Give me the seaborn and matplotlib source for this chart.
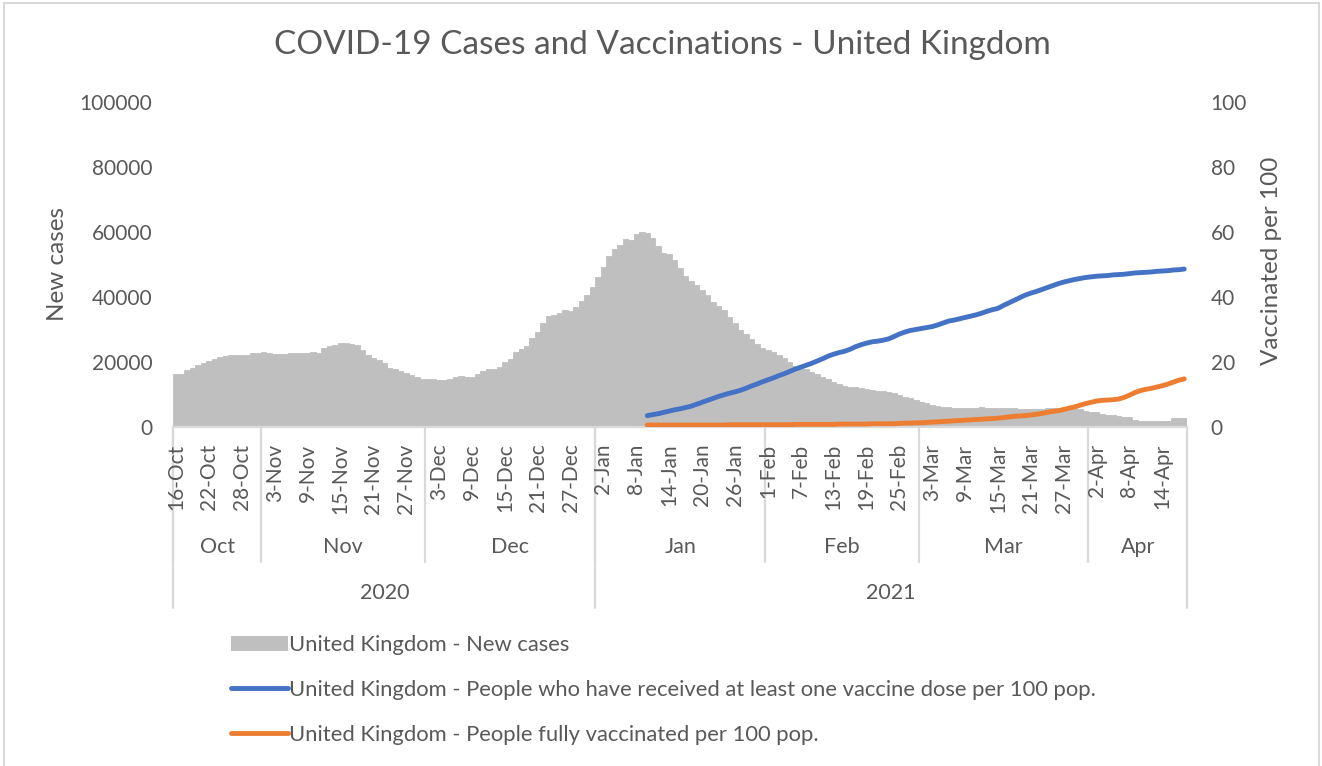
import numpy as np
import pandas as pd
import matplotlib
matplotlib.use("Agg")
import matplotlib.pyplot as plt
import matplotlib.transforms as mtransforms
from matplotlib.lines import Line2D
from matplotlib.patches import Patch
import seaborn as sns

# ---------------- data ----------------
start_date = "2020-10-16"
end_date = "2021-04-18"
new_cases = [
    16200, 16300, 17500, 18300, 19100, 19600, 20300, 20900, 21500, 21800,
    22000, 22000, 22100, 22300, 22800, 22900, 23100, 22800, 22400, 22400,
    22500, 22700, 22800, 22700, 22900, 23000, 22900, 24300, 24900, 25300,
    25800, 25800, 25600, 25100, 23800, 22100, 21100, 20600, 19600, 18300,
    17900, 17300, 16700, 16000, 15300, 14700, 14900,
    14700, 14400, 14600, 14700, 15400, 15600, 15500, 15500, 16200, 17200,
    17900, 17900, 18600, 19900, 21000, 23100, 24100, 24900, 27300, 29200,
    31900, 34000, 34500, 35000, 36000, 35600, 36800, 38900, 40700, 43100,
    46100, 49200, 52500, 54900, 56000, 57900, 57400, 59500, 59900, 59800,
    58100, 55700, 53600, 53200, 51400, 48800, 46500, 45000, 43600, 42200,
    40600, 38500, 37300, 35900, 33900, 32100, 29800, 28600, 27000, 25500,
    24200, 23700, 23000, 22200, 21100, 20100, 18900, 18400, 17700, 17000,
    16300, 15500, 14700, 13700, 13100, 12600, 12400, 12300, 11900, 11600,
    11400, 11200, 11100, 10800, 10400, 9800, 9300, 8800, 8300, 7800,
    7300, 6900, 6500, 6200, 6000, 5900, 5800, 5800, 5800, 5900,
    6000, 5900, 5800, 5800, 5800, 5700, 5700, 5600, 5500, 5500,
    5500, 5600, 5700, 5700, 5700, 5600, 5600, 5700, 5600, 4800,
    4700, 4600, 4000, 3800, 3700, 3500, 3100, 3000, 2000, 1800,
    1800, 1800, 1800, 1800, 1800, 2700, 2700, 2700,
]

vacc_start_date = "2021-01-10"
one_dose_per_100 = [
    3.5, 3.8, 4.1, 4.5, 4.9, 5.3, 5.6, 6.0, 6.4, 7.0,
    7.6, 8.2, 8.8, 9.4, 9.9, 10.4, 10.8, 11.3, 11.9, 12.6,
    13.2, 13.9, 14.5, 15.1, 15.8, 16.4, 17.1, 17.8, 18.4, 19.0,
    19.6, 20.3, 21.0, 21.8, 22.4, 22.9, 23.3, 23.9, 24.7, 25.3,
    25.8, 26.2, 26.4, 26.7, 27.1, 27.8, 28.6, 29.2, 29.7, 30.0,
    30.3, 30.6, 30.9, 31.4, 32.0, 32.6, 32.9, 33.3, 33.7, 34.1,
    34.5, 35.0, 35.6, 36.1, 36.5, 37.4, 38.2, 39.0, 39.8, 40.6,
    41.2, 41.7, 42.3, 42.9, 43.5, 44.1, 44.6, 45.0, 45.4, 45.7,
    46.0, 46.2, 46.4, 46.5, 46.6, 46.8, 46.9, 47.0, 47.2, 47.4,
    47.5, 47.6, 47.7, 47.9, 48.0, 48.1, 48.3, 48.4, 48.6,
]
fully_vacc_per_100 = [
    0.6, 0.6, 0.6, 0.6, 0.6, 0.6, 0.6, 0.6, 0.6, 0.6,
    0.6, 0.6, 0.6, 0.6, 0.6, 0.7, 0.7, 0.7, 0.7, 0.7,
    0.7, 0.7, 0.7, 0.7, 0.7, 0.7, 0.7, 0.8, 0.8, 0.8,
    0.8, 0.8, 0.8, 0.8, 0.8, 0.9, 0.9, 0.9, 0.9, 0.9,
    0.9, 1.0, 1.0, 1.0, 1.0, 1.0, 1.1, 1.2, 1.2, 1.3,
    1.3, 1.4, 1.5, 1.6, 1.7, 1.8, 1.9, 2.0, 2.1, 2.2,
    2.3, 2.4, 2.5, 2.6, 2.7, 2.9, 3.1, 3.3, 3.4, 3.5,
    3.7, 3.9, 4.2, 4.5, 4.8, 5.0, 5.4, 5.8, 6.2, 6.7,
    7.2, 7.6, 8.0, 8.2, 8.3, 8.4, 8.6, 9.1, 9.8, 10.6,
    11.2, 11.6, 11.9, 12.3, 12.7, 13.2, 13.8, 14.4, 14.8,
]

title = "COVID-19 Cases and Vaccinations - United Kingdom"
left_label = "New cases"
right_label = "Vaccinated per 100"
series_names = [
    "United Kingdom - New cases",
    "United Kingdom - People who have received at least one vaccine dose per 100 pop.",
    "United Kingdom - People fully vaccinated per 100 pop.",
]
left_ticks = [0, 20000, 40000, 60000, 80000, 100000]
right_ticks = [0, 20, 40, 60, 80, 100]
label_every = 6

# ---------------- style ----------------
GRAY_BAR = "#bfbfbf"
BLUE = "#4472c4"
ORANGE = "#ed7d31"
TXT = "#595959"
LINE = "#d9d9d9"
LW = 3.5

sns.set_theme(style="white")
plt.rcParams["font.family"] = ["Lato", "DejaVu Sans"]

W, H = 1322, 766
fig = plt.figure(figsize=(W / 100, H / 100), dpi=100)
fig.patch.set_facecolor("white")

x0, x1, y_top, y_bot = 173.3, 1187.0, 102.0, 427.0
rect = [x0 / W, 1 - y_bot / H, (x1 - x0) / W, (y_bot - y_top) / H]
ax = fig.add_axes(rect)

dates = pd.date_range(start_date, end_date, freq="D")
n = len(dates)
df = pd.DataFrame({"pos": np.arange(n), "cases": new_cases})

sns.barplot(data=df, x="pos", y="cases", color=GRAY_BAR, width=1.0,
            saturation=1, linewidth=0.6, edgecolor=GRAY_BAR, ax=ax, zorder=1)

ax2 = ax.twinx()
ax2.set_position(rect)
vstart = int(np.where(dates == pd.Timestamp(vacc_start_date))[0][0])
vpos = np.arange(vstart, vstart + len(one_dose_per_100))
sns.lineplot(x=vpos, y=one_dose_per_100, ax=ax2, color=BLUE, lw=LW,
             solid_capstyle="round")
sns.lineplot(x=vpos, y=fully_vacc_per_100, ax=ax2, color=ORANGE, lw=LW,
             solid_capstyle="round")

ax.set_xlim(-0.5, n - 0.5)
ax2.set_xlim(-0.5, n - 0.5)
ax.set_ylim(0, 100000)
ax2.set_ylim(0, 100)

for a in (ax, ax2):
    for s in a.spines.values():
        s.set_visible(False)
    a.set_xlabel("")
    a.set_ylabel("")
    a.grid(False)
ax.spines["bottom"].set_visible(True)
ax.spines["bottom"].set_color(LINE)
ax.spines["bottom"].set_linewidth(1.6)

ax.set_yticks(left_ticks)
ax.set_yticklabels([str(t) for t in left_ticks])
ax2.set_yticks(right_ticks)
ax2.set_yticklabels([str(t) for t in right_ticks])
ax.tick_params(axis="y", length=0, pad=15, labelsize=15, labelcolor=TXT)
ax2.tick_params(axis="y", length=0, pad=17, labelsize=15, labelcolor=TXT)

tick_pos = np.arange(0, n, label_every)
tick_labels = [f"{dates[i].day}-{dates[i].strftime('%b')}" for i in tick_pos]
ax.set_xticks(tick_pos)
ax.set_xticklabels(tick_labels, rotation=90)
ax.tick_params(axis="x", length=0, pad=12, labelsize=15, labelcolor=TXT)
ax2.tick_params(axis="x", length=0)

# multi-level category axis
trans = mtransforms.blended_transform_factory(ax.transData, ax.transAxes)
h_px = y_bot - y_top
def ay(px):
    return (y_bot - px) / h_px

month_keys = [(d.year, d.month) for d in dates]
groups = []
for i, k in enumerate(month_keys):
    if not groups or groups[-1][0] != k:
        groups.append([k, i, i])
    else:
        groups[-1][2] = i
for (yr, mo), a, b in groups:
    ax.text((a + b) / 2, ay(547), dates[a].strftime("%b"), transform=trans,
            ha="center", va="center", fontsize=15.5, color=TXT)
    ax.plot([a - 0.5, a - 0.5], [0, ay(562)], transform=trans, color=LINE,
            lw=1.6, clip_on=False, zorder=0)

years = sorted(set(d.year for d in dates))
for yr in years:
    idx = np.where(dates.year == yr)[0]
    a, b = idx[0], idx[-1]
    ax.text((a + b) / 2, ay(593), str(yr), transform=trans,
            ha="center", va="center", fontsize=15.5, color=TXT)
    ax.plot([a - 0.5, a - 0.5], [0, ay(608)], transform=trans, color=LINE,
            lw=1.6, clip_on=False, zorder=0)
ax.plot([n - 0.5, n - 0.5], [0, ay(608)], transform=trans, color=LINE,
        lw=1.6, clip_on=False, zorder=0)

# titles and axis labels
fig.text(662 / W, 1 - 45 / H, title, ha="center", va="center",
         fontsize=24, color=TXT)
fig.text(57 / W, 1 - 264 / H, left_label, rotation=90, ha="center",
         va="center", fontsize=17.5, color=TXT)
fig.text(1272 / W, 1 - 261 / H, right_label, rotation=90, ha="center",
         va="center", fontsize=17.5, color=TXT)

# legend
handles = [
    Patch(facecolor=GRAY_BAR, edgecolor="none"),
    Line2D([0], [0], color=BLUE, lw=LW, solid_capstyle="round"),
    Line2D([0], [0], color=ORANGE, lw=LW, solid_capstyle="round"),
]
leg = fig.legend(handles, series_names, loc="upper left",
                 bbox_to_anchor=(231 / W, 1 - 635 / H), frameon=False,
                 fontsize=15.8, handlelength=2.58, handletextpad=0.08,
                 labelspacing=1.14, borderpad=0, borderaxespad=0)
for t in leg.get_texts():
    t.set_color(TXT)

# chart border
for xs, ys in [([4, 1319], [3, 3]), ([4, 4], [3, 770]), ([1319, 1319], [3, 770])]:
    fig.add_artist(Line2D([x / W for x in xs], [1 - y / H for y in ys],
                          color=LINE, lw=1.5))

fig.savefig("out.png", dpi=100, facecolor="white")
